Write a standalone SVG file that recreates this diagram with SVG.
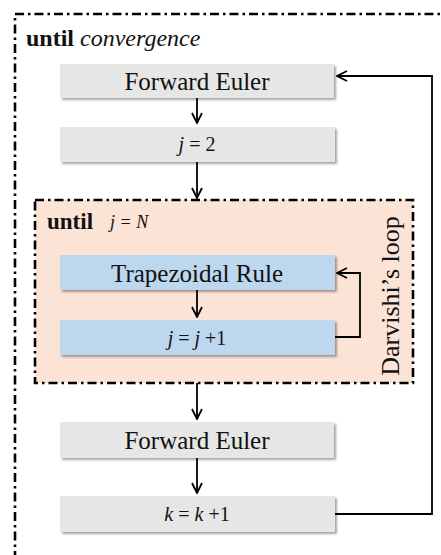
<svg xmlns="http://www.w3.org/2000/svg" width="441" height="555" viewBox="0 0 441 555">
<style>
.border{fill:none;stroke:#000;stroke-width:2.6;stroke-dasharray:9 4 2.5 4}
.gray{fill:#e6e6e6}
.blue{fill:#bdd7ee}
.t{font-family:"Liberation Serif",serif;fill:#111}
.big{font-size:25px}
.math{font-size:20px}
.conn{fill:none;stroke:#000;stroke-width:1.8}
</style>
<defs>
<filter id="sh" x="-5%" y="-20%" width="115%" height="160%">
<feDropShadow dx="2" dy="2" stdDeviation="1.2" flood-color="#000" flood-opacity="0.35"/>
</filter>
<marker id="ah" viewBox="0 0 12 12" refX="11" refY="6" markerWidth="12" markerHeight="12" markerUnits="userSpaceOnUse" orient="auto">
<path d="M1,1 L11,6 L1,11" fill="none" stroke="#000" stroke-width="1.8"/>
</marker>
</defs>
<rect x="0" y="0" width="441" height="555" fill="#fff"/>
<g id="outer-loop">
<path class="border" d="M15,560 L15,14 L446,14"/>
<text class="t" x="26" y="46" font-size="24"><tspan font-weight="bold">until</tspan> <tspan font-style="italic">convergence</tspan></text>
</g>
<g id="darvishi-loop">
<rect x="35" y="200" width="378" height="183" class="border" style="fill:#fbe4d6"/>
<text class="t" x="47" y="229" font-size="23" font-weight="bold">until</text>
<text class="t" x="110" y="228" font-size="18" font-style="italic">j = N</text>
<text class="t" font-size="26" transform="translate(399,296) rotate(-90)" text-anchor="middle">Darvishi’s loop</text>
</g>
<g id="fe1">
<rect x="60" y="64" width="274" height="34" class="gray" filter="url(#sh)"/>
<text class="t big" x="197" y="90" text-anchor="middle">Forward Euler</text>
</g>
<g id="j2">
<rect x="60" y="127" width="275" height="35" class="gray" filter="url(#sh)"/>
<text class="t math" x="197" y="151" text-anchor="middle"><tspan font-style="italic">j</tspan> = 2</text>
</g>
<g id="trap">
<rect x="60" y="255" width="275" height="35" class="blue" filter="url(#sh)"/>
<text class="t big" x="197" y="282" text-anchor="middle">Trapezoidal Rule</text>
</g>
<g id="jinc">
<rect x="60" y="320" width="275" height="35" class="blue" filter="url(#sh)"/>
<text class="t math" x="197" y="345" text-anchor="middle"><tspan font-style="italic">j</tspan> = <tspan font-style="italic">j</tspan> +1</text>
</g>
<g id="fe2">
<rect x="60" y="422" width="274" height="36" class="gray" filter="url(#sh)"/>
<text class="t big" x="197" y="449" text-anchor="middle">Forward Euler</text>
</g>
<g id="kinc">
<rect x="60" y="496" width="275" height="36" class="gray" filter="url(#sh)"/>
<text class="t math" x="197" y="521" text-anchor="middle"><tspan font-style="italic">k</tspan> = <tspan font-style="italic">k</tspan> +1</text>
</g>
<g id="connectors">
<path class="conn" d="M197,98 L197,123" marker-end="url(#ah)"/>
<path class="conn" d="M197,162 L197,198" marker-end="url(#ah)"/>
<path class="conn" d="M197,290 L197,317" marker-end="url(#ah)"/>
<path class="conn" d="M335,337 L360,337 L360,273 L337,273" marker-end="url(#ah)"/>
<path class="conn" d="M197,383 L197,419" marker-end="url(#ah)"/>
<path class="conn" d="M197,458 L197,493" marker-end="url(#ah)"/>
<path class="conn" d="M335,514 L432,514 L432,76 L337,76" marker-end="url(#ah)"/>
</g>
</svg>
